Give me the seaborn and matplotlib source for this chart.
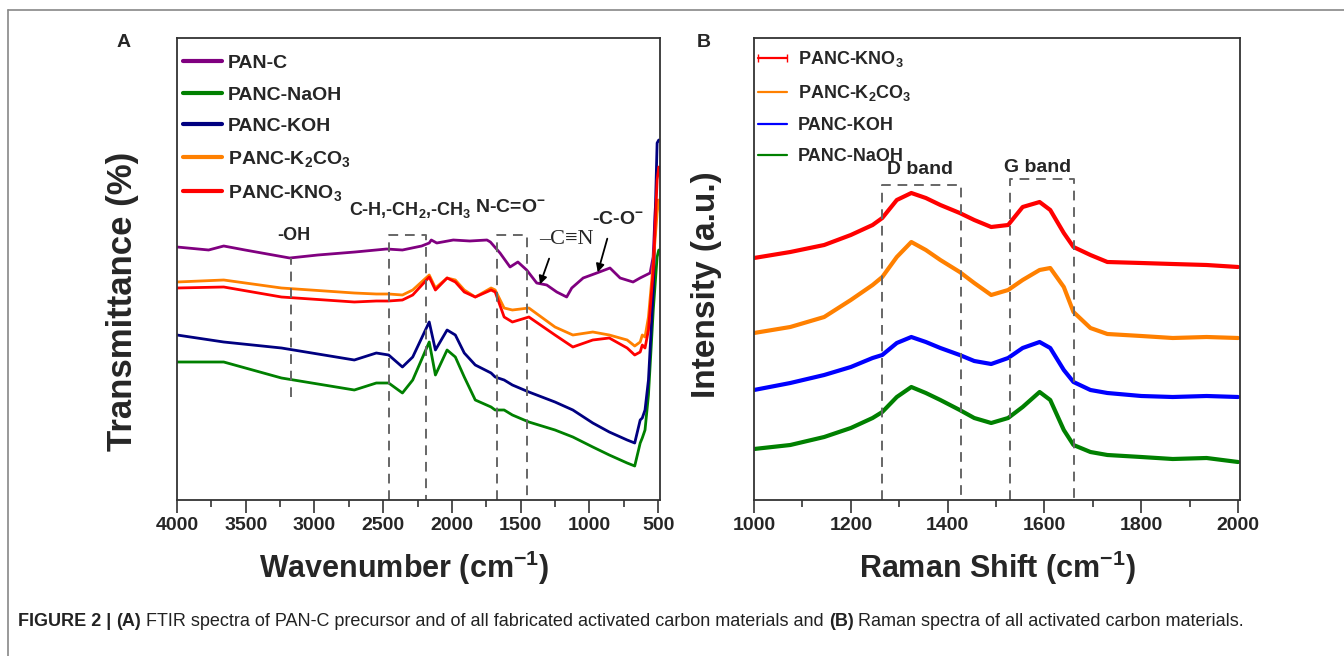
import numpy as np
import pandas as pd
import seaborn as sns
import matplotlib.pyplot as plt
from matplotlib.lines import Line2D

"""
Data read off the figure (y values are arbitrary units, larger = higher)
"""
# FTIR, PAN-C precursor
panc_wn = [4000, 3770, 3660, 3505, 3180, 2975, 2705, 2475, 2360, 2220, 2165, 2150,
           2110, 1990, 1870, 1745, 1720, 1650, 1577, 1520, 1456, 1383, 1310, 1237,
           1165, 1128, 1045, 946, 850, 776, 682, 631, 558, 536, 520, 510]
panc_t = [253, 250, 254, 250, 242, 245, 248, 251, 250, 254, 257, 260,
          257, 260, 259, 260, 258, 247, 233, 238, 230, 217, 215, 208,
          203, 212, 222, 227, 232, 222, 218, 222, 227, 243, 292, 300]

# FTIR, activated carbons (shared wavenumber grid)
ftir_wn = [4000, 3660, 3240, 2710, 2550, 2460, 2360, 2285, 2165, 2120, 2035, 1975,
           1910, 1830, 1715, 1685, 1620, 1560, 1440, 1250, 1120, 975, 855, 725,
           670, 630, 615, 595, 570, 535, 507, 495]
k2co3_t = [218, 220, 212, 207, 206, 206, 205, 210, 225, 212, 222, 220,
           210, 203, 212, 210, 192, 190, 192, 173, 165, 168, 165, 160,
           154, 158, 165, 163, 183, 237, 287, 300]
kno3_t = [212, 213, 203, 198, 199, 199, 200, 205, 223, 210, 222, 218,
          208, 203, 210, 208, 183, 178, 183, 165, 153, 160, 162, 152,
          145, 148, 155, 152, 170, 230, 320, 333]
koh_t = [165, 158, 152, 140, 147, 145, 133, 143, 178, 150, 170, 165,
         147, 135, 127, 123, 120, 115, 108, 98, 90, 77, 68, 60,
         57, 80, 82, 90, 120, 210, 357, 360]
naoh_t = [138, 138, 122, 110, 117, 117, 107, 120, 158, 125, 150, 143,
          123, 100, 93, 90, 90, 85, 78, 70, 63, 53, 45, 37,
          34, 57, 62, 70, 105, 190, 243, 250]

# Raman
raman_shift = [1000, 1075, 1145, 1200, 1245, 1265, 1295, 1325, 1355, 1385, 1425, 1455,
               1490, 1525, 1555, 1590, 1612, 1640, 1660, 1695, 1730, 1800, 1865, 1935, 2000]
kno3_i = [242, 248, 255, 265, 275, 282, 300, 307, 302, 295, 287, 280,
          273, 275, 293, 298, 290, 267, 253, 245, 238, 237, 236, 235, 233]
k2co3_i = [167, 173, 183, 200, 215, 223, 243, 258, 250, 240, 228, 217,
           205, 210, 220, 230, 232, 213, 188, 172, 166, 164, 162, 163, 162]
koh_i = [110, 117, 125, 133, 142, 145, 157, 163, 158, 152, 145, 139,
         136, 142, 152, 158, 152, 130, 118, 110, 107, 104, 103, 104, 103]
naoh_i = [51, 55, 63, 72, 82, 88, 103, 113, 107, 100, 90, 82,
          77, 82, 93, 108, 100, 70, 55, 48, 45, 43, 41, 42, 38]

ftir_names = ["PAN-C", "PANC-NaOH", "PANC-KOH", "PANC-K2CO3", "PANC-KNO3"]
ftir_labels = ["PAN-C", "PANC-NaOH", "PANC-KOH",
               r"PANC-K$_\mathbf{2}$CO$_\mathbf{3}$", r"PANC-KNO$_\mathbf{3}$"]
ftir_colors = {"PAN-C": "#800080", "PANC-NaOH": "#008000", "PANC-KOH": "#000080",
               "PANC-K2CO3": "#ff8000", "PANC-KNO3": "#ff0000"}

raman_names = ["PANC-KNO3", "PANC-K2CO3", "PANC-KOH", "PANC-NaOH"]
raman_labels = [r"PANC-KNO$_\mathbf{3}$", r"PANC-K$_\mathbf{2}$CO$_\mathbf{3}$",
                "PANC-KOH", "PANC-NaOH"]
raman_colors = {"PANC-KNO3": "#ff0000", "PANC-K2CO3": "#ff8000",
                "PANC-KOH": "#0000ff", "PANC-NaOH": "#008000"}

"""
Long form tables
"""
ftir = pd.concat([
    pd.DataFrame({"wn": panc_wn, "t": panc_t, "sample": "PAN-C"}),
    pd.DataFrame({"wn": ftir_wn, "t": naoh_t, "sample": "PANC-NaOH"}),
    pd.DataFrame({"wn": ftir_wn, "t": koh_t, "sample": "PANC-KOH"}),
    pd.DataFrame({"wn": ftir_wn, "t": k2co3_t, "sample": "PANC-K2CO3"}),
    pd.DataFrame({"wn": ftir_wn, "t": kno3_t, "sample": "PANC-KNO3"}),
], ignore_index=True)

raman = pd.concat([
    pd.DataFrame({"shift": raman_shift, "i": kno3_i, "sample": "PANC-KNO3"}),
    pd.DataFrame({"shift": raman_shift, "i": k2co3_i, "sample": "PANC-K2CO3"}),
    pd.DataFrame({"shift": raman_shift, "i": koh_i, "sample": "PANC-KOH"}),
    pd.DataFrame({"shift": raman_shift, "i": naoh_i, "sample": "PANC-NaOH"}),
], ignore_index=True)

"""
Style
"""
sns.set_theme(style="ticks")
plt.rcParams["font.family"] = ["Liberation Sans", "DejaVu Sans"]
plt.rcParams["font.weight"] = "bold"
plt.rcParams["axes.labelweight"] = "bold"
plt.rcParams["mathtext.fontset"] = "custom"
plt.rcParams["mathtext.rm"] = "Liberation Sans:bold"
plt.rcParams["mathtext.bf"] = "Liberation Sans:bold"
plt.rcParams["mathtext.it"] = "Liberation Sans:bold:italic"

W, H = 1344, 656
fig = plt.figure(figsize=(W / 100, H / 100), dpi=100)
fig.patch.set_facecolor("white")

ax1 = fig.add_axes([177 / W, 156 / H, 483 / W, 462 / H])
ax2 = fig.add_axes([754 / W, 156 / H, 486 / W, 462 / H])

sns.lineplot(data=ftir, x="wn", y="t", hue="sample", hue_order=ftir_names,
             palette=ftir_colors, sort=False, estimator=None, legend=False,
             linewidth=2.0, ax=ax1)
sns.lineplot(data=raman, x="shift", y="i", hue="sample", hue_order=raman_names,
             palette=raman_colors, sort=False, estimator=None, legend=False,
             linewidth=3.0, ax=ax2)

dash = dict(color="#666666", lw=1.4, ls=(0, (5, 3.5)))

"""
Panel A
"""
ax1.set_xlim(4000, 486)
ax1.set_ylim(0, 462)
ax1.set_xticks(np.arange(4000, 499, -500))
ax1.set_xticks(np.arange(3750, 499, -500), minor=True)
ax1.set_yticks([])

ax1.plot([3170, 3170], [103, 242], **dash)
for xa, xb, top in [(2460, 2190, 265), (1675, 1450, 265)]:
    ax1.plot([xa, xa, xb, xb], [0, top, top, 0], **dash)

ax1.text(3150, 264, "-OH", ha="center", va="center", fontsize=13)
ax1.text(2300, 290, r"C-H,-CH$_\mathbf{2}$,-CH$_\mathbf{3}$", ha="center", va="center", fontsize=13)
ax1.text(1575, 292, r"N-C=O$^\mathbf{-}$", ha="center", va="center", fontsize=14)
ax1.text(1169, 260, "\u2013C\u2261N", ha="center", va="center", fontsize=16,
         family="Liberation Serif", fontweight="normal")
ax1.text(790, 280, r"-C-O$^\mathbf{-}$", ha="center", va="center", fontsize=14)
arrow = dict(arrowstyle="-|>", color="black", lw=1.3, mutation_scale=12)
ax1.annotate("", xy=(1366, 213), xytext=(1286, 244), arrowprops=arrow)
ax1.annotate("", xy=(944, 225), xytext=(864, 264), arrowprops=arrow)

h1 = [Line2D([], [], color=ftir_colors[n], lw=3) for n in ftir_names]
ax1.legend(h1, ftir_labels, loc="upper left", bbox_to_anchor=(-0.012, 0.99),
           frameon=False, fontsize=14, handlelength=2.0, handletextpad=0.3,
           labelspacing=0.72, borderaxespad=0.2)

ax1.set_xlabel(r"Wavenumber (cm$^{\mathbf{-1}}$)", fontsize=22)
ax1.set_ylabel("Transmittance (%)", fontsize=25)
ax1.xaxis.set_label_coords(0.47, -0.105)
ax1.yaxis.set_label_coords(-0.078, 0.43)
ax1.text(-0.11, 0.99, "A", transform=ax1.transAxes, fontsize=14, ha="center", va="center")

"""
Panel B
"""
ax2.set_xlim(1000, 2004)
ax2.set_ylim(0, 462)
ax2.set_xticks(np.arange(1000, 2001, 200))
ax2.set_xticks(np.arange(1100, 2001, 200), minor=True)
ax2.set_yticks([])

for xa, xb, top in [(1265, 1428, 315), (1529, 1661, 321)]:
    ax2.plot([xa, xa, xb, xb], [0, top, top, 0], **dash)
ax2.text(1343, 330, "D band", ha="center", va="center", fontsize=14)
ax2.text(1585, 333, "G band", ha="center", va="center", fontsize=14)

h2 = [Line2D([], [], color=raman_colors[n], lw=1.6) for n in raman_names]
h2[0].set_marker("|")
h2[0].set_markersize(6)
ax2.legend(h2, raman_labels, loc="upper left", bbox_to_anchor=(-0.025, 1.0),
           frameon=False, fontsize=13, handlelength=2.2, handletextpad=0.3,
           labelspacing=0.78, borderaxespad=0.2, numpoints=2)

ax2.set_xlabel(r"Raman Shift (cm$^{\mathbf{-1}}$)", fontsize=22)
ax2.set_ylabel("Intensity (a.u.)", fontsize=24)
ax2.xaxis.set_label_coords(0.5, -0.105)
ax2.yaxis.set_label_coords(-0.066, 0.465)
ax2.text(-0.103, 0.99, "B", transform=ax2.transAxes, fontsize=14, ha="center", va="center")

for ax in (ax1, ax2):
    for s in ax.spines.values():
        s.set_color("#333333")
        s.set_linewidth(1.3)
    ax.tick_params(axis="x", which="major", direction="out", length=9, width=1.2,
                   color="#333333", pad=3, labelsize=14)
    ax.tick_params(axis="x", which="minor", direction="out", length=5, width=1.2,
                   color="#333333")
    for lab in ax.get_xticklabels():
        lab.set_fontweight("bold")

"""
Frame and caption
"""
fig.add_artist(Line2D([8 / W, 1], [1 - 10 / H] * 2, transform=fig.transFigure,
                      color="#888888", lw=1.2))
fig.add_artist(Line2D([8 / W, 8 / W], [0, 1 - 10 / H], transform=fig.transFigure,
                      color="#888888", lw=1.2))

caption = [("FIGURE 2 | ", "bold"), ("(A)", "bold"),
           (" FTIR spectra of PAN-C precursor and of all fabricated activated carbon materials and ", "normal"),
           ("(B)", "bold"), (" Raman spectra of all activated carbon materials.", "normal")]
fig.canvas.draw()
renderer = fig.canvas.get_renderer()
xpos = 18
for txt, wt in caption:
    t = fig.text(xpos / W, (H - 622) / H, txt.replace(" ", "\u00a0"), fontsize=13,
                 fontweight=wt, va="center", color="#222222")
    xpos = t.get_window_extent(renderer).x1

fig.savefig("out.png", dpi=100, facecolor="white")
